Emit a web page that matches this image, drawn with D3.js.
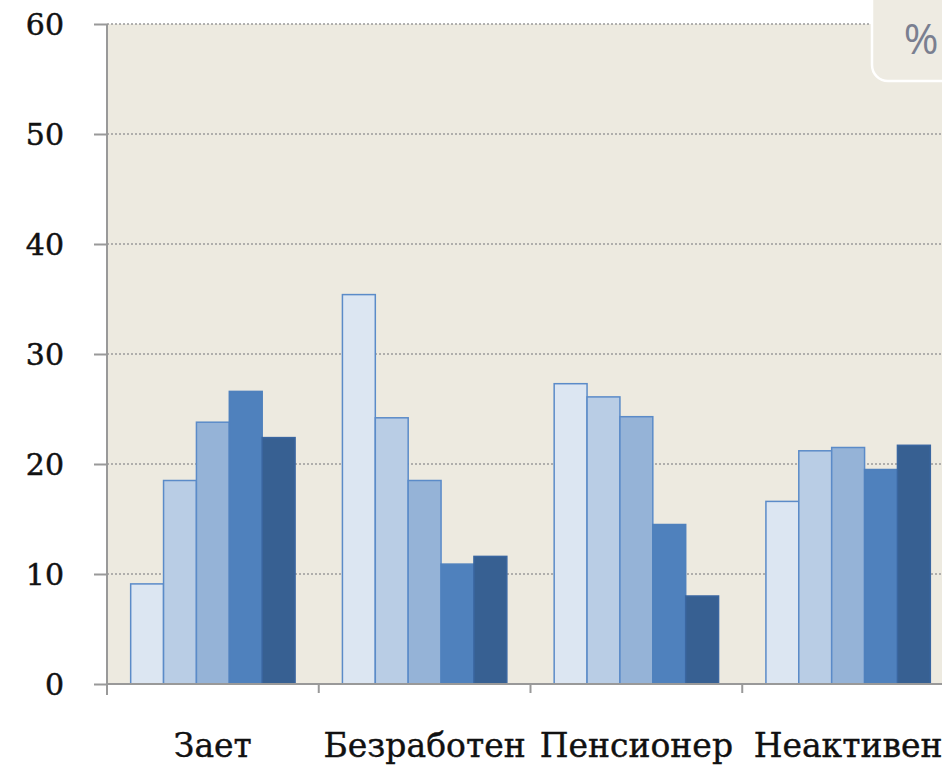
<!DOCTYPE html>
<html><head><meta charset="utf-8">
<script src="https://cdn.jsdelivr.net/npm/d3@7"></script>
<style>html,body{margin:0;padding:0;background:#fff;overflow:hidden}</style>
</head><body>
<svg id="c" width="942" height="766"></svg>
<script>
const categories = ["Зает", "Безработен", "Пенсионер", "Неактивен"];
const seriesNames = ["Серия 1", "Серия 2", "Серия 3", "Серия 4", "Серия 5"];
const values = [
  [9.1, 18.5, 23.8, 26.6, 22.4],
  [35.4, 24.2, 18.5, 10.9, 11.6],
  [27.3, 26.1, 24.3, 14.5, 8.0],
  [16.6, 21.2, 21.5, 19.5, 21.7]
];
const yTicks = [0, 10, 20, 30, 40, 50, 60];
const fills = ["#DCE6F2", "#B9CDE5", "#95B3D7", "#4F81BD", "#376092"];
const legendText = "%";

(function () {
const svg = d3.select("#c");
const pLeft = 107, pTop = 24, pBottom = 684, pRight = 954;

const y = d3.scaleLinear().domain([0, 60]).range([pBottom, pTop]);
const x0 = d3.scaleBand().domain(categories).range([pLeft, pRight]).padding(0);
const x1 = d3.scaleBand().domain(seriesNames).range([0, x0.bandwidth()]).paddingInner(0).paddingOuter(0.72);

svg.append("rect").attr("x", pLeft).attr("y", pTop).attr("width", 942 - pLeft).attr("height", pBottom - pTop).attr("fill", "#EDEAE0");

svg.append("g").selectAll("line").data(yTicks.filter(d => d > 0)).join("line")
  .attr("x1", pLeft).attr("x2", 942).attr("y1", d => y(d)).attr("y2", d => y(d))
  .attr("stroke", "#9a9a9a").attr("stroke-width", 1.5).attr("stroke-dasharray", "2,2");

const g = svg.append("g");
categories.forEach((c, i) => {
  g.append("g").attr("transform", `translate(${x0(c)},0)`)
    .selectAll("rect").data(values[i]).join("rect")
    .attr("x", (d, j) => x1(seriesNames[j]))
    .attr("width", x1.bandwidth())
    .attr("y", d => y(d))
    .attr("height", d => y(0) - y(d))
    .attr("fill", (d, j) => fills[j])
    .attr("stroke", (d, j) => j < 3 ? "#5B8BC8" : (j === 3 ? "#4F81BD" : "#3A66A0"))
    .attr("stroke-width", 1.5);
});

const yAxis = d3.axisLeft(y).tickValues(yTicks).tickSize(13).tickPadding(30).tickSizeOuter(0);
const ya = svg.append("g").attr("transform", `translate(${pLeft},0)`).call(yAxis);
ya.select(".domain").remove();
ya.append("line").attr("x1", 0).attr("x2", 0).attr("y1", pTop).attr("y2", pBottom + 11).attr("stroke", "#999").attr("stroke-width", 2);
ya.selectAll(".tick line").attr("stroke", "#999").attr("stroke-width", 2);
ya.selectAll(".tick text").attr("font-family", "'DejaVu Serif', serif").attr("font-size", 30)
  .attr("fill", "#111").attr("stroke", "#111").attr("stroke-width", 0.5).attr("dy", "0.35em");

const xa = svg.append("g").attr("transform", `translate(0,${pBottom})`);
xa.append("line").attr("x1", pLeft).attr("x2", 942).attr("y1", 0).attr("y2", 0).attr("stroke", "#999").attr("stroke-width", 2);
xa.selectAll("line.t").data(categories).join("line").attr("class", "t")
  .attr("x1", d => x0(d) + x0.bandwidth()).attr("x2", d => x0(d) + x0.bandwidth())
  .attr("y1", 0).attr("y2", 9).attr("stroke", "#999").attr("stroke-width", 2);
xa.selectAll("text").data(categories).join("text")
  .attr("x", d => x0(d) + x0.bandwidth() / 2).attr("y", 73)
  .attr("text-anchor", "middle")
  .attr("font-family", "'DejaVu Serif', serif").attr("font-size", 33)
  .attr("fill", "#111").attr("stroke", "#111").attr("stroke-width", 0.4)
  .text(d => d);

svg.append("rect").attr("x", 872).attr("y", -30).attr("width", 120).attr("height", 111).attr("rx", 16)
  .attr("fill", "#EEEBE2").attr("stroke", "#fff").attr("stroke-width", 2.5);
svg.append("text").attr("x", 921).attr("y", 54).attr("text-anchor", "middle")
  .attr("font-family", "'Open Sans', sans-serif").attr("font-size", 42).attr("fill", "#7a7f90").text(legendText);
})();
</script>
</body></html>
